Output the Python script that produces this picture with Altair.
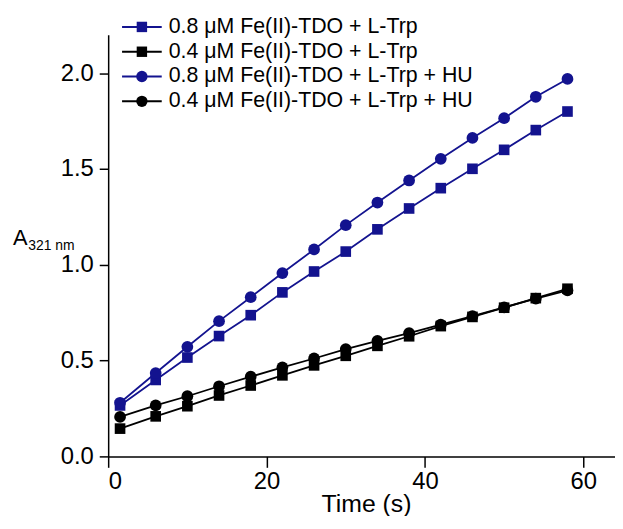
import altair as alt
import pandas as pd

# ---- data ----
times = [1.5, 6, 10, 14, 18, 22, 26, 30, 34, 38, 42, 46, 50, 54, 58]
labels = [
    "0.8 μM Fe(II)-TDO + L-Trp",
    "0.4 μM Fe(II)-TDO + L-Trp",
    "0.8 μM Fe(II)-TDO + L-Trp + HU",
    "0.4 μM Fe(II)-TDO + L-Trp + HU",
]
blue_sq = [0.266, 0.399, 0.516, 0.628, 0.737, 0.856, 0.965, 1.069, 1.185, 1.294, 1.400, 1.501, 1.600, 1.703, 1.800]
black_sq = [0.145, 0.209, 0.262, 0.318, 0.370, 0.423, 0.475, 0.525, 0.577, 0.627, 0.680, 0.728, 0.776, 0.826, 0.875]
blue_ci = [0.280, 0.435, 0.572, 0.706, 0.831, 0.957, 1.080, 1.207, 1.325, 1.440, 1.553, 1.662, 1.765, 1.877, 1.970]
black_ci = [0.206, 0.266, 0.314, 0.366, 0.416, 0.465, 0.511, 0.560, 0.603, 0.643, 0.688, 0.732, 0.778, 0.824, 0.866]
series_values = [blue_sq, black_sq, blue_ci, black_ci]

x_ticks = [0, 20, 40, 60]
y_ticks = [0.0, 0.5, 1.0, 1.5, 2.0]

BLUE = "#13138f"
colors = [BLUE, "#000000", BLUE, "#000000"]
shapes = ["square", "square", "circle", "circle"]
FONT = "Liberation Sans"

rows = []
for lab, vals in zip(labels, series_values):
    for t, v in zip(times, vals):
        rows.append({"s": lab, "t": t, "a": v})
df = pd.DataFrame(rows)

xenc = alt.X(
    "t:Q",
    scale=alt.Scale(domain=[0, 64], nice=False, zero=False),
    axis=alt.Axis(
        values=x_ticks, format="d", title="Time (s)", grid=False,
        tickSize=11, labelPadding=2, titleX=260, titleY=56,
        titleBaseline="alphabetic", titleAlign="center",
        titleFontSize=25, titleFont=FONT, titleFontWeight="normal", titleColor="black",
    ),
)
yenc = alt.Y(
    "a:Q",
    scale=alt.Scale(domain=[0, 2.2], nice=False),
    axis=alt.Axis(values=y_ticks, format=".1f", title=None, grid=False, tickSize=9, labelPadding=6),
)
cenc = alt.Color("s:N", scale=alt.Scale(domain=labels, range=colors), legend=None)

base = alt.Chart(df)
lines = base.mark_line(strokeWidth=1.8).encode(x=xenc, y=yenc, color=cenc, detail="s:N")
squares = base.transform_filter(
    alt.FieldOneOfPredicate(field="s", oneOf=labels[:2])
).mark_point(filled=True, opacity=1, shape="square", size=115).encode(x=xenc, y=yenc, color=cenc)
circles = base.transform_filter(
    alt.FieldOneOfPredicate(field="s", oneOf=labels[2:])
).mark_point(filled=True, opacity=1, shape="circle", size=140).encode(x=xenc, y=yenc, color=cenc)

layers = [lines, squares, circles]

# ---- legend (top-left) ----
for i, (lab, col, shp) in enumerate(zip(labels, colors, shapes)):
    yy = -8 + 25 * i
    one = pd.DataFrame({"label": [lab]})
    layers.append(
        alt.Chart(one).mark_rule(color=col, strokeWidth=2).encode(
            x=alt.value(14), x2=alt.value(54), y=alt.value(yy)
        )
    )
    layers.append(
        alt.Chart(one).mark_point(filled=True, opacity=1, shape=shp, color=col,
                                  size=110 if shp == "square" else 130).encode(
            x=alt.value(34), y=alt.value(yy)
        )
    )
    layers.append(
        alt.Chart(one).mark_text(align="left", baseline="middle", fontSize=21.5, font=FONT,
                                 color="black").encode(
            x=alt.value(61), y=alt.value(yy), text="label:N"
        )
    )

# ---- y-axis title "A" with subscript "321 nm" (horizontal: rotation is not rendered here) ----
ytitle_main = pd.DataFrame({"txt": ["A"]})
ytitle_sub = pd.DataFrame({"txt": ["321 nm"]})
layers.append(
    alt.Chart(ytitle_main).mark_text(align="left", baseline="alphabetic",
                                     fontSize=22, font=FONT, color="black").encode(
        x=alt.value(-96), y=alt.value(212), text="txt:N"
    )
)
layers.append(
    alt.Chart(ytitle_sub).mark_text(align="left", baseline="alphabetic",
                                    fontSize=14, font=FONT, color="black").encode(
        x=alt.value(-80.5), y=alt.value(217), text="txt:N"
    )
)

chart = alt.layer(*layers).properties(
    width=511,
    height=425,
    padding={"left": 101, "top": 25, "right": 0, "bottom": 58},
    autosize=alt.AutoSizeParams(type="none"),
    background="white",
).configure_view(strokeOpacity=0).configure_axis(
    domainColor="black", domainWidth=1.5, tickColor="black", tickWidth=1.5,
    labelFont=FONT, labelFontSize=24, labelColor="black",
)

chart.save("out.html", embed_options={"renderer": "svg", "actions": False})
